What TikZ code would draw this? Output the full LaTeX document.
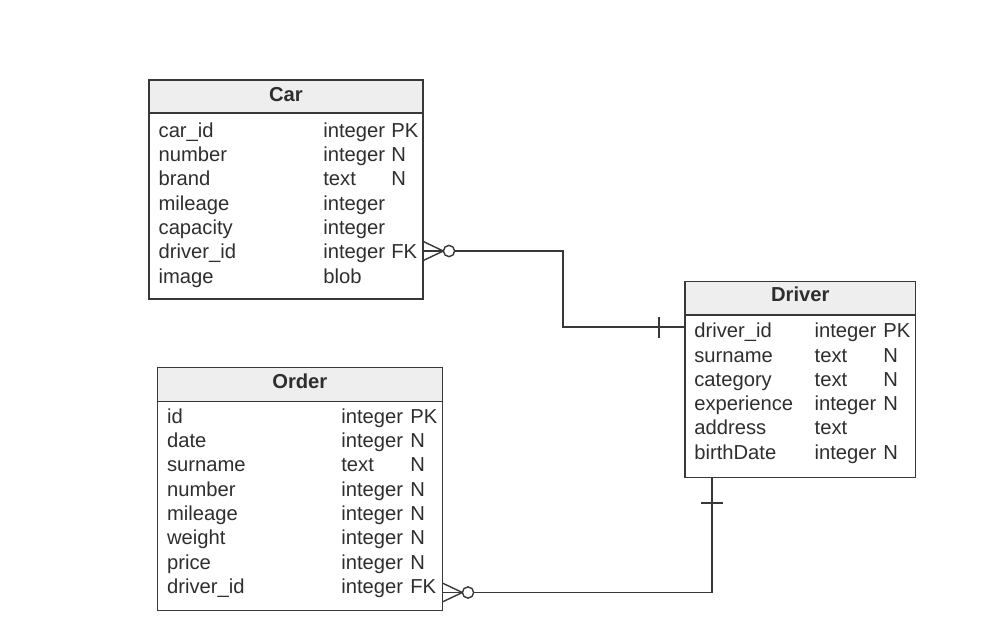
\documentclass[tikz,border=0pt]{standalone}
\usepackage{fontspec}
\setmainfont{Liberation Sans}
\usetikzlibrary{positioning, fit}

\definecolor{erline}{HTML}{383838}
\definecolor{erink}{HTML}{2E2E2E}
\definecolor{erhead}{HTML}{EEEEEE}

\begin{document}
\begin{tikzpicture}[
    x=0.02cm, y=-0.02cm,
    tbl/.style={draw=erline, line width=0.8pt, inner sep=0pt},
    hdr/.style={draw=erline, line width=0.8pt, fill=erhead, inner sep=0pt},
    title/.style={anchor=base, inner sep=0pt, text=erink,
                  font=\fontsize{11.5}{14}\selectfont\bfseries},
    field/.style={anchor=base west, inner sep=0pt, text=erink,
                  font=\fontsize{11.5}{14}\selectfont},
    rel/.style={draw=erline, line width=0.8pt},
    manyzero/.pic={
        \draw[rel] (0,-9.5) -- (20,0) -- (0,9.5);
        \draw[rel, fill=white] (25.7,0) circle[radius=3.2pt];
    }
]
    \useasboundingbox (0,0) rectangle (991,630);

    % --- Car table ---
    \node[tbl, fit={(149,80) (423,299)}] (car) {};
    \node[hdr, fit={(149,80) (423,113)}] (car-hd) {};
    \node[title] (car-title) at (286,101.7) {Car};
    \foreach \f/\t/\k [count=\i from 0] in {car\_id/integer/PK, number/integer/N,
        brand/text/N, mileage/integer/{}, capacity/integer/{},
        driver\_id/integer/FK, image/blob/{}} {
        \node[field] (car-f\i) at (158.3, 137+24.35*\i) {\f};
        \node[field] (car-t\i) at (323, 137+24.35*\i) {\t};
        \node[field] (car-k\i) at (391, 137+24.35*\i) {\k};
    }

    % --- Order table ---
    \node[tbl, fit={(157.3,367.3) (442.3,610.7)}] (order) {};
    \node[hdr, fit={(157.3,367.3) (442.3,401.7)}] (order-hd) {};
    \node[title] (order-title) at (299.8,388) {Order};
    \foreach \f/\t/\k [count=\i from 0] in {id/integer/PK, date/integer/N,
        surname/text/N, number/integer/N, mileage/integer/N,
        weight/integer/N, price/integer/N, driver\_id/integer/FK} {
        \node[field] (order-f\i) at (166.7, 423.3+24.3*\i) {\f};
        \node[field] (order-t\i) at (341, 423.3+24.3*\i) {\t};
        \node[field] (order-k\i) at (410, 423.3+24.3*\i) {\k};
    }

    % --- Driver table ---
    \node[tbl, fit={(685,281.7) (915.7,477.3)}] (driver) {};
    \node[hdr, fit={(685,281.7) (915.7,315)}] (driver-hd) {};
    \node[title] (driver-title) at (800.3,301.7) {Driver};
    \foreach \f/\t/\k [count=\i from 0] in {driver\_id/integer/PK, surname/text/N,
        category/text/N, experience/integer/N, address/text/{},
        birthDate/integer/N} {
        \node[field] (driver-f\i) at (694, 337.7+24.3*\i) {\f};
        \node[field] (driver-t\i) at (814.3, 337.7+24.3*\i) {\t};
        \node[field] (driver-k\i) at (883, 337.7+24.3*\i) {\k};
    }

    % --- Relationships ---
    \coordinate (car-fk) at (423.3,251);
    \coordinate (order-fk) at (442.3,592.5);
    \coordinate (driver-pk) at (685,327);
    \coordinate (driver-bot) at (712,477.3);
    \coordinate (bend) at (563,327);

    \draw[rel] (car-fk) -| (bend) -- (driver-pk);
    \draw[rel] (order-fk) -| (driver-bot);

    \pic at (car-fk) {manyzero};
    \pic at (order-fk) {manyzero};
    \draw[rel] (driver-pk) ++(-26,-10.5) -- ++(0,21);
    \draw[rel] (driver-bot) ++(-11,25.7) -- ++(22,0);
\end{tikzpicture}
\end{document}
